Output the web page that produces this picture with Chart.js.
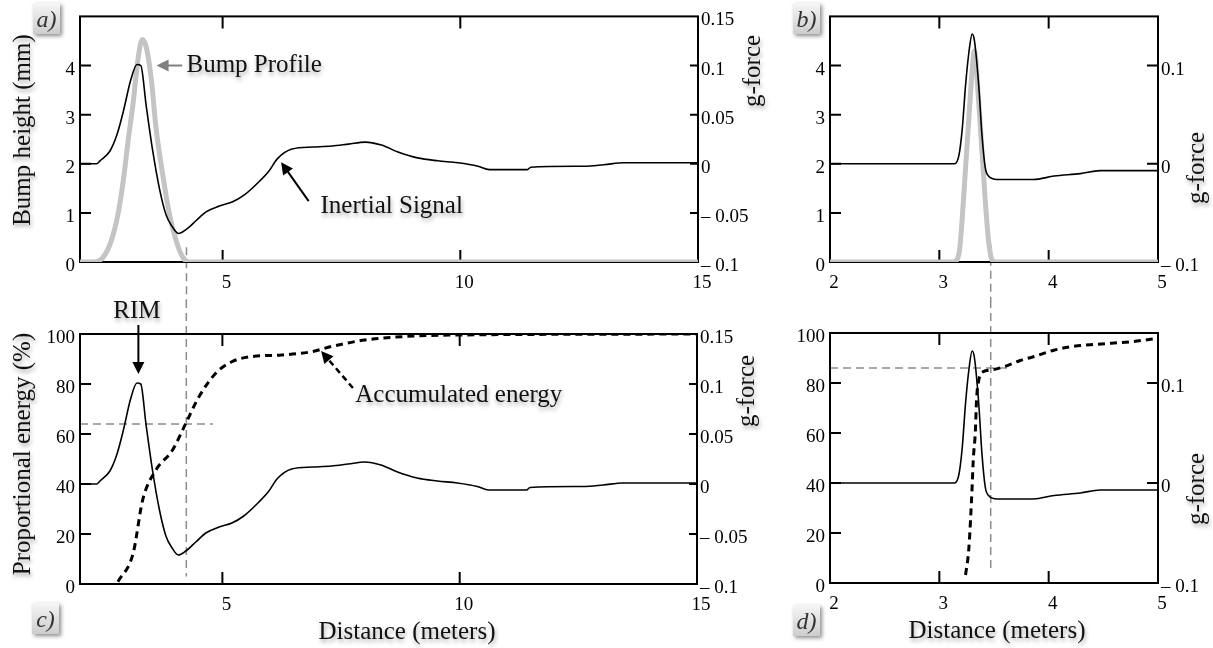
<!DOCTYPE html>
<html>
<head>
<meta charset="utf-8">
<script src="https://cdn.jsdelivr.net/npm/chart.js@4.4.0/dist/chart.umd.min.js"></script>
<style>
  body { margin: 0; background: #fff; width: 1213px; height: 648px; position: relative; overflow: hidden; }
  canvas { position: absolute; }
</style>
</head>
<body>
<canvas id="ca" width="770" height="300" style="left:0;top:0"></canvas>
<canvas id="cb" width="443" height="300" style="left:770px;top:0"></canvas>
<canvas id="cc" width="770" height="348" style="left:0;top:300px"></canvas>
<canvas id="cd" width="443" height="348" style="left:770px;top:300px"></canvas>
<script>
// inertial signal (g-force), panels a and c
var sigX = [2.0, 2.35, 2.42, 2.63, 2.78, 2.92, 3.06, 3.20, 3.28, 3.39, 3.53, 3.67, 3.81, 3.94, 4.07, 4.23, 4.44, 4.65, 4.93, 5.2, 5.45, 5.77, 5.98, 6.15, 6.46, 6.9, 7.3, 7.65, 8.0, 8.34, 8.69, 9.1, 9.53, 9.95, 10.37, 10.61, 11.41, 11.48, 12.6, 13.02, 13.44, 15.0];
var sigG = [0, 0, 0.003, 0.013, 0.030, 0.055, 0.084, 0.101, 0.100, 0.060, 0.013, -0.025, -0.052, -0.064, -0.071, -0.067, -0.058, -0.049, -0.043, -0.039, -0.032, -0.018, -0.007, 0.005, 0.015, 0.017, 0.018, 0.020, 0.022, 0.019, 0.012, 0.006, 0.003, 0.001, -0.0025, -0.006, -0.006, -0.0035, -0.0025, -0.001, 0.001, 0.001];
// bump profile (mm), panel a
var bumpX = [2.0, 2.28, 2.49, 2.66, 2.80, 2.91, 3.01, 3.12, 3.22, 3.31, 3.39, 3.50, 3.60, 3.74, 3.88, 4.02, 4.16, 4.30, 15.0];
var bumpH = [0, 0, 0.1, 0.44, 0.98, 1.65, 2.45, 3.26, 4.13, 4.53, 4.39, 3.72, 2.72, 1.78, 0.98, 0.44, 0.1, 0, 0];
// accumulated energy (%), panel c
var energyX = [2.8, 3.12, 3.32, 3.6, 3.95, 4.23, 4.51, 4.86, 5.21, 5.63, 6.25, 6.88, 7.3, 8.0, 9.04, 10.0, 15.0];
var energyPct = [0.9, 12.3, 33.6, 45.6, 53.6, 64.3, 75, 84.3, 89, 91, 91.6, 92.9, 95, 97.6, 99.2, 99.6, 100];

// inertial signal (g-force), panels b and d
var sigBX = [2.0, 3.14, 3.18, 3.21, 3.24, 3.27, 3.30, 3.32, 3.36, 3.39, 3.42, 3.45, 3.53, 3.86, 4.05, 4.29, 4.47, 5.0];
var sigBG = [0, 0, 0.009, 0.036, 0.080, 0.113, 0.132, 0.126, 0.080, 0.029, -0.004, -0.0125, -0.016, -0.016, -0.0125, -0.010, -0.007, -0.007];
// bump profile (mm), panel b
var bumpBX = [2.0, 3.13, 3.18, 3.21, 3.24, 3.27, 3.30, 3.32, 3.36, 3.39, 3.42, 3.45, 3.48, 3.51, 5.0];
var bumpBH = [0, 0, 0.17, 0.91, 1.92, 2.92, 3.9, 4.3, 3.26, 2.25, 1.25, 0.44, 0.05, 0, 0];
// accumulated energy (%), panel d
var energyDX = [3.24, 3.27, 3.30, 3.31, 3.33, 3.34, 3.36, 3.40, 3.47, 3.59, 3.74, 3.86, 4.04, 4.2, 4.44, 4.75, 5.0];
var energyDPct = [3.2, 13.9, 38.5, 49, 61, 73, 81, 84.5, 85.2, 86.5, 89, 90.5, 93, 94.5, 95.5, 96.5, 97.9];

// reference (dashed) lines
var refDistAC = 4.24, refEnergyC = 64;
var refDistBD = 3.47, refEnergyD = 86;

// tick labels
var ticksLong = [5, 10, 15];
var ticksShort = [2, 3, 4, 5];
var ticksBump = [0, 1, 2, 3, 4];
var ticksPct = [0, 20, 40, 60, 80, 100];
var ticksG = [-0.1, -0.05, 0, 0.05, 0.1, 0.15];
var ticksGShort = [-0.1, 0, 0.1];

var SERIF = '"Liberation Serif", "Times New Roman", serif';

function pts(xs, ys) {
    var out = [];
    for (var i = 0; i < xs.length; i++) out.push({x: xs[i], y: ys[i]});
    return out;
}

function gLabel(v) {
    return v < 0 ? '\u2013 ' + String(+(-v).toFixed(3)) : String(+v.toFixed(3));
}

function xAxis(min, max, ticks, h) {
    return {
        type: 'linear', min: min, max: max,
        border: {display: false},
        grid: {display: false, drawTicks: false},
        afterBuildTicks: function (s) { s.ticks = ticks.map(function (v) { return {value: v}; }); },
        afterFit: function (s) { s.height = h; },
        ticks: {font: {family: SERIF, size: 19}, color: '#000', padding: 10, labelOffset: 4,
                maxRotation: 0, autoSkip: false, callback: function (v) { return String(v); }}
    };
}

function yAxis(pos, min, max, ticks, w, fmt) {
    return {
        type: 'linear', position: pos, min: min, max: max,
        border: {display: false},
        grid: {display: false, drawTicks: false},
        afterBuildTicks: function (s) { s.ticks = ticks.map(function (v) { return {value: v}; }); },
        afterFit: function (s) { s.width = w; },
        ticks: {font: {family: SERIF, size: 19}, color: '#000', padding: pos === 'left' ? 5 : 3,
                labelOffset: 4, autoSkip: false, callback: fmt || function (v) { return String(v); }}
    };
}

function shadowOn(ctx) {
    ctx.shadowColor = 'rgba(0,0,0,0.35)';
    ctx.shadowBlur = 4;
    ctx.shadowOffsetX = 1;
    ctx.shadowOffsetY = 3;
}

function arrowHead(ctx, x0, y0, x1, y1) {
    var ang = Math.atan2(y1 - y0, x1 - x0), L = 12, W = 6;
    ctx.beginPath();
    ctx.moveTo(x1, y1);
    ctx.lineTo(x1 - L * Math.cos(ang) + W * Math.sin(ang), y1 - L * Math.sin(ang) - W * Math.cos(ang));
    ctx.lineTo(x1 - L * Math.cos(ang) - W * Math.sin(ang), y1 - L * Math.sin(ang) + W * Math.cos(ang));
    ctx.closePath();
    ctx.fill();
}

// frame, inward tick marks, dashed reference lines, annotations
function decor(o) {
    return {
        id: 'decor',
        beforeDatasetsDraw: function (chart) {
            var ctx = chart.ctx, a = chart.chartArea, s = chart.scales;
            ctx.save();
            ctx.strokeStyle = '#8c8c8c';
            ctx.lineWidth = 1.5;
            ctx.setLineDash([8, 5]);
            (o.refs || []).forEach(function (r) {
                ctx.beginPath();
                if (r.x !== undefined) {
                    var px = s.x.getPixelForValue(r.x);
                    var y0 = r.from === 'top' ? 0 : s.y.getPixelForValue(r.from);
                    var y1 = r.to === 'bottom' ? chart.height : s.y.getPixelForValue(r.to);
                    ctx.moveTo(px, y0); ctx.lineTo(px, y1);
                } else {
                    var py = s.y.getPixelForValue(r.y);
                    ctx.moveTo(s.x.getPixelForValue(r.from), py);
                    ctx.lineTo(s.x.getPixelForValue(r.to), py);
                }
                ctx.stroke();
            });
            ctx.setLineDash([]);
            ctx.strokeStyle = '#000';
            ctx.lineWidth = 2;
            ctx.strokeRect(a.left, a.top, a.right - a.left, a.bottom - a.top);
            ctx.beginPath();
            s.x.ticks.forEach(function (t) {
                var p = s.x.getPixelForValue(t.value);
                if (p < a.left + 3 || p > a.right - 3) return;
                ctx.moveTo(p, a.bottom); ctx.lineTo(p, a.bottom - 12);
                ctx.moveTo(p, a.top); ctx.lineTo(p, a.top + 12);
            });
            s.y.ticks.forEach(function (t) {
                var p = s.y.getPixelForValue(t.value);
                if (p < a.top + 3 || p > a.bottom - 3) return;
                ctx.moveTo(a.left, p); ctx.lineTo(a.left + 11, p);
            });
            s.y2.ticks.forEach(function (t) {
                var p = s.y2.getPixelForValue(t.value);
                if (p < a.top + 3 || p > a.bottom - 3) return;
                ctx.moveTo(a.right, p); ctx.lineTo(a.right - o.rightTick, p);
            });
            ctx.stroke();
            ctx.restore();
        },
        afterDraw: function (chart) {
            var ctx = chart.ctx, s = chart.scales;
            ctx.save();
            // arrows
            (o.arrows || []).forEach(function (ar) {
                var x0 = s.x.getPixelForValue(ar.from[0]), y0 = s.y.getPixelForValue(ar.from[1]);
                var x1 = s.x.getPixelForValue(ar.to[0]), y1 = s.y.getPixelForValue(ar.to[1]);
                var ang = Math.atan2(y1 - y0, x1 - x0);
                ctx.strokeStyle = ar.color; ctx.fillStyle = ar.color;
                ctx.lineWidth = ar.width || 2;
                ctx.setLineDash(ar.dash || []);
                ctx.beginPath();
                ctx.moveTo(x0, y0);
                ctx.lineTo(x1 - 10 * Math.cos(ang), y1 - 10 * Math.sin(ang));
                ctx.stroke();
                ctx.setLineDash([]);
                arrowHead(ctx, x0, y0, x1, y1);
            });
            // annotation texts in data coordinates
            ctx.font = '25px ' + SERIF;
            ctx.fillStyle = '#111';
            shadowOn(ctx);
            (o.notes || []).forEach(function (n) {
                ctx.textAlign = n.align || 'left';
                ctx.textBaseline = 'alphabetic';
                ctx.fillText(n.text, s.x.getPixelForValue(n.x), s.y.getPixelForValue(n.y));
            });
            // axis titles
            (o.titles || []).forEach(function (t) {
                ctx.save();
                ctx.translate(t.px, t.py);
                if (t.rot) ctx.rotate(-Math.PI / 2);
                ctx.textAlign = 'center';
                ctx.textBaseline = t.rot ? 'middle' : 'alphabetic';
                ctx.fillText(t.text, 0, 0);
                ctx.restore();
            });
            // panel letter box
            var b = o.box;
            ctx.shadowColor = 'rgba(0,0,0,0.45)';
            ctx.shadowBlur = 4;
            ctx.shadowOffsetX = 2;
            ctx.shadowOffsetY = 2;
            var gr = ctx.createLinearGradient(0, b.y, 0, b.y + 31);
            gr.addColorStop(0, '#f6f6f6');
            gr.addColorStop(1, '#cdcdcd');
            ctx.fillStyle = gr;
            ctx.fillRect(b.x, b.y, 27, 31);
            ctx.shadowColor = 'transparent';
            ctx.fillStyle = '#333';
            ctx.font = 'italic 24px ' + SERIF;
            ctx.textAlign = 'center';
            ctx.textBaseline = 'alphabetic';
            ctx.fillText(b.text, b.x + 13.5, b.y + 24);
            ctx.restore();
        }
    };
}

function makeChart(id, datasets, scales, pad, o) {
    return new Chart(document.getElementById(id), {
        type: 'line',
        data: {datasets: datasets},
        options: {
            responsive: false, animation: false, events: [],
            layout: {padding: pad},
            elements: {point: {radius: 0}, line: {cubicInterpolationMode: 'monotone'}},
            plugins: {legend: {display: false}, tooltip: {enabled: false}},
            scales: scales
        },
        plugins: [decor(o)]
    });
}

var signalStyle = {borderColor: '#000', borderWidth: 1.6, yAxisID: 'y2'};
var bumpStyle = {borderColor: '#c4c4c4', borderWidth: 5, yAxisID: 'y'};
var energyStyle = {borderColor: '#000', borderWidth: 3, borderDash: [7, 5], yAxisID: 'y'};

function ds(style, data) {
    return Object.assign({data: data}, style);
}

// a)
makeChart('ca',
    [ds(signalStyle, pts(sigX, sigG)), ds(bumpStyle, pts(bumpX, bumpH))],
    {x: xAxis(2, 15, ticksLong, 38), y: yAxis('left', 0, 5, ticksBump, 80),
     y2: yAxis('right', -0.1, 0.15, ticksG, 72, gLabel)},
    {top: 13, left: 0, right: 0, bottom: 0},
    {rightTick: 8,
     refs: [{x: refDistAC, from: 0.3, to: 'bottom'}],
     arrows: [{from: [4.15, 4.0], to: [3.61, 4.0], color: '#7f7f7f'},
              {from: [6.81, 1.24], to: [6.23, 2.03], color: '#000'}],
     notes: [{text: 'Bump Profile', x: 4.24, y: 3.86},
             {text: 'Inertial Signal', x: 7.06, y: 1.0}],
     titles: [{text: 'Bump height (mm)', px: 23, py: 130, rot: true},
              {text: 'g-force', px: 753, py: 71, rot: true}],
     box: {x: 33, y: 3, text: 'a)'}});

// b)
makeChart('cb',
    [ds(signalStyle, pts(sigBX, sigBG)), ds(bumpStyle, pts(bumpBX, bumpBH))],
    {x: xAxis(2, 5, ticksShort, 38), y: yAxis('left', 0, 5, ticksBump, 60),
     y2: yAxis('right', -0.1, 0.15, ticksGShort, 55, gLabel)},
    {top: 13, left: 0, right: 0, bottom: 0},
    {rightTick: 11,
     refs: [{x: refDistBD, from: 0.35, to: 'bottom'}],
     titles: [{text: 'g-force', px: 427, py: 168, rot: true}],
     box: {x: 23, y: 3, text: 'b)'}});

// c)
makeChart('cc',
    [ds(signalStyle, pts(sigX, sigG)), ds(energyStyle, pts(energyX, energyPct))],
    {x: xAxis(2, 15, ticksLong, 64), y: yAxis('left', 0, 100, ticksPct, 80),
     y2: yAxis('right', -0.1, 0.15, ticksG, 73, gLabel)},
    {top: 34, left: 0, right: 0, bottom: 0},
    {rightTick: 8,
     refs: [{x: refDistAC, from: 'top', to: 3}, {y: refEnergyC, from: 2, to: 4.8}],
     arrows: [{from: [3.23, 103.6], to: [3.23, 84], color: '#000'},
              {from: [7.75, 78.4], to: [7.08, 93.2], color: '#000', width: 2.5, dash: [6, 4]}],
     notes: [{text: 'RIM', x: 3.2, y: 106.4, align: 'center'},
             {text: 'Accumulated energy', x: 7.8, y: 72.8}],
     titles: [{text: 'Proportional energy (%)', px: 23, py: 154, rot: true},
              {text: 'g-force', px: 747, py: 91, rot: true},
              {text: 'Distance (meters)', px: 407, py: 339}],
     box: {x: 32, y: 303, text: 'c)'}});

// d)
makeChart('cd',
    [ds(signalStyle, pts(sigBX, sigBG)), ds(energyStyle, pts(energyDX, energyDPct))],
    {x: xAxis(2, 5, ticksShort, 65), y: yAxis('left', 0, 100, ticksPct, 60),
     y2: yAxis('right', -0.1, 0.15, ticksGShort, 55, gLabel)},
    {top: 33, left: 0, right: 0, bottom: 0},
    {rightTick: 11,
     refs: [{x: refDistBD, from: 'top', to: 4}, {y: refEnergyD, from: 2, to: 3.62}],
     titles: [{text: 'g-force', px: 427, py: 189, rot: true},
              {text: 'Distance (meters)', px: 227, py: 338}],
     box: {x: 23, y: 305, text: 'd)'}});
</script>
</body>
</html>
